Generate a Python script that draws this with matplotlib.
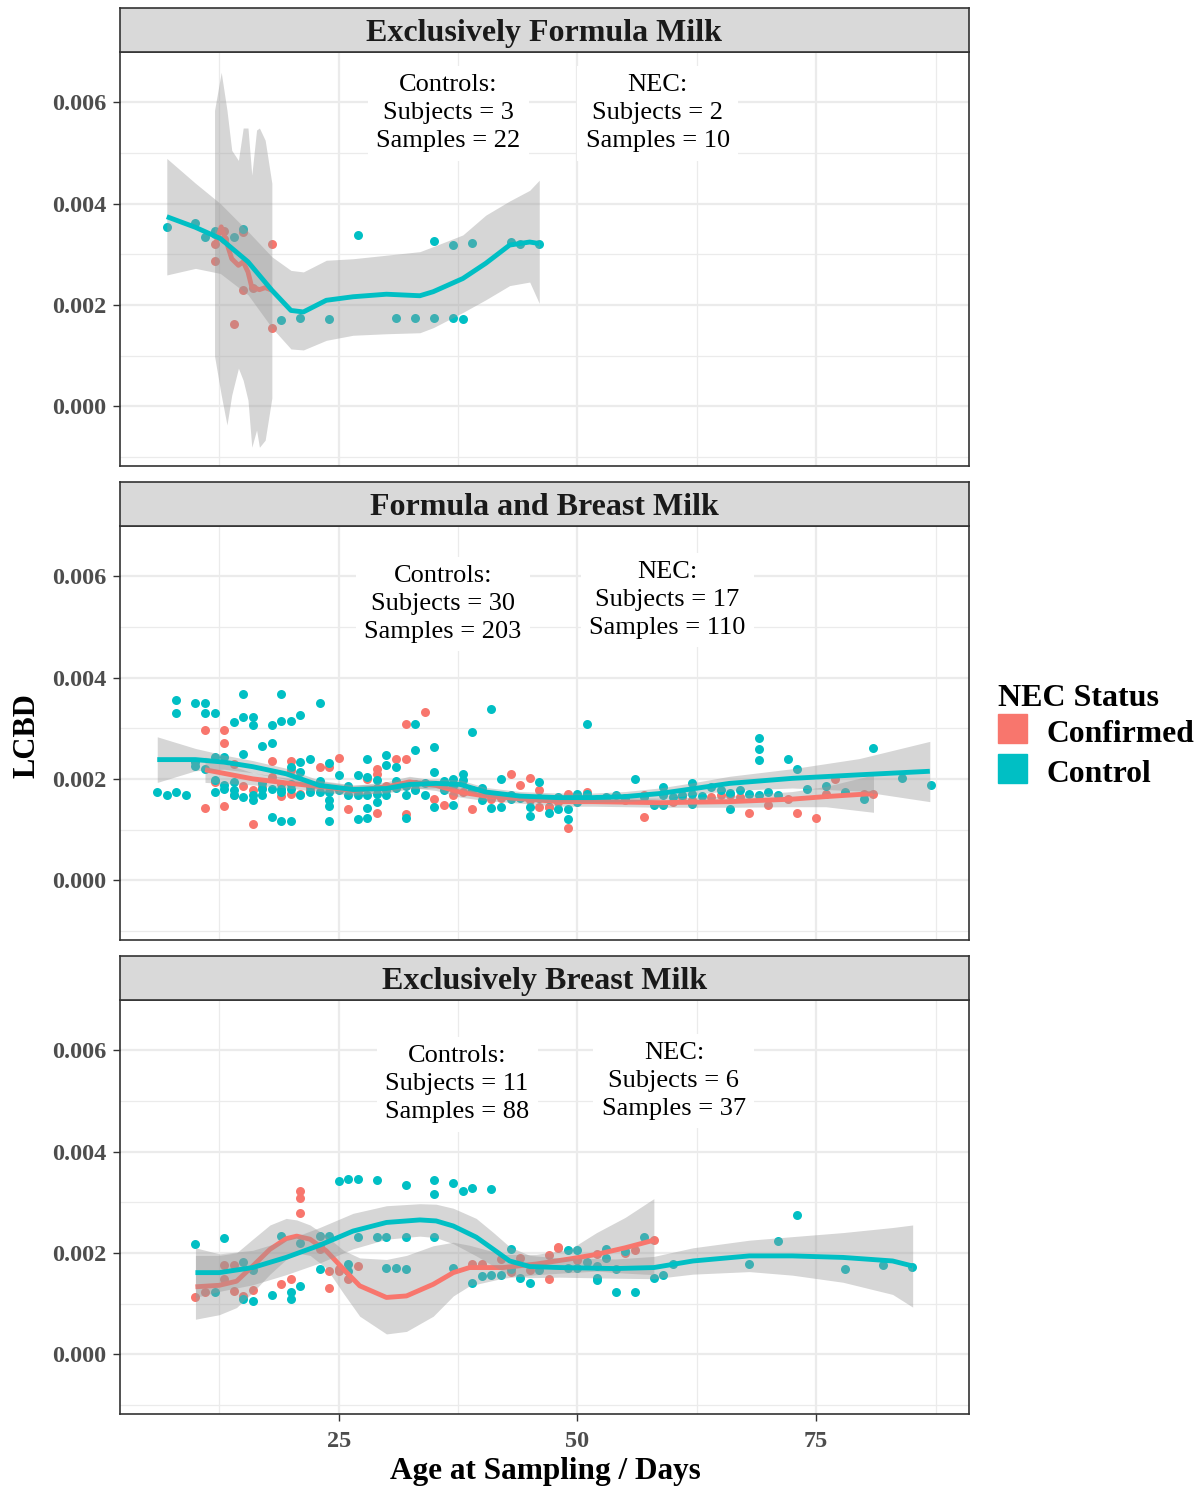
import numpy as np
import matplotlib
matplotlib.use("Agg")
import matplotlib.pyplot as plt
from matplotlib.patches import Rectangle
from matplotlib.ticker import FixedLocator

plt.rcParams["font.family"] = ["Liberation Serif", "DejaVu Serif"]

COL_NEC = "#F8766D"
COL_CTRL = "#00BFC4"

# ---------------- data (LCBD in units of 1e-3) ----------------
# Exclusively Formula Milk
efm_ctrl_day = [7, 10, 11, 12, 12, 14, 15, 19, 21, 24, 27, 31, 33, 35, 35, 37, 37, 38, 39, 43, 44, 46]
efm_ctrl_val = [3.54, 3.62, 3.34, 3.45, 3.40, 3.34, 3.49, 1.71, 1.75, 1.72, 3.37, 1.74, 1.75, 1.75,
                3.26, 3.18, 1.74, 1.73, 3.23, 3.25, 3.20, 3.20]
efm_nec_day = [12, 12, 13, 13, 14, 15, 15, 16, 18, 18]
efm_nec_val = [2.86, 3.20, 3.45, 3.30, 1.63, 3.43, 2.30, 2.33, 3.21, 1.55]

# Formula and Breast Milk
fbm_ctrl_day = [6, 7, 8, 8, 8, 9, 10, 10, 10, 11, 11, 11, 12, 12, 12, 12, 13, 13, 14, 14, 14,
                15, 15, 15, 15, 16, 16, 16, 16, 17, 17, 17, 18, 18, 18, 18, 19, 19, 19, 19, 19,
                20, 20, 20, 20, 21, 21, 21, 21, 22, 22, 23, 23, 24, 24, 24, 24, 24, 25,
                26, 27, 27, 27, 28, 28, 28, 28, 28, 29, 29, 29, 30, 30, 30, 31, 31, 32, 32,
                33, 33, 33, 34, 35, 35, 35, 36, 37, 37, 38, 38, 39, 40, 41, 41, 42, 42, 43,
                45, 45, 46, 47, 48, 49, 49, 50, 50, 51, 53, 54, 56, 58, 59, 59, 59, 60, 62,
                62, 62, 64, 65, 66, 67, 69, 69, 69, 69, 72, 73, 78, 80, 81, 84, 87,
                13, 14, 17, 20, 22, 23, 25, 26, 29, 30, 31, 32, 33, 34, 36, 37, 39, 40, 43,
                44, 46, 47, 48, 51, 52, 55, 57, 61, 63, 66, 68, 70, 71, 74, 76]
fbm_ctrl_val = [1.74, 1.68, 3.55, 3.29, 1.75, 1.68, 3.50, 2.33, 2.25, 3.49, 3.30, 2.19, 3.29,
                2.43, 1.97, 1.74, 2.43, 1.87, 3.12, 1.93, 1.68, 3.68, 3.22, 2.49, 1.64, 3.22,
                3.06, 1.68, 1.59, 2.65, 1.80, 1.68, 3.06, 2.70, 1.80, 1.24, 3.68, 3.14, 1.80,
                1.74, 1.17, 3.14, 2.24, 1.80, 1.17, 3.26, 2.33, 2.14, 1.68, 2.40, 1.74, 3.49,
                1.74, 2.31, 1.74, 1.58, 1.46, 1.17, 2.08,
                1.68, 2.07, 1.68, 1.20, 2.40, 2.03, 1.68, 1.42, 1.22, 1.97, 1.71, 1.55, 2.47,
                2.27, 1.68, 2.24, 1.81, 1.68, 1.22, 3.09, 2.57, 1.78, 1.68, 2.63, 2.14, 1.45,
                1.78, 2.00, 1.48, 2.10, 1.97, 2.93, 1.58, 3.37, 1.43, 2.00, 1.45, 1.68,
                1.44, 1.27, 1.94, 1.32, 1.40, 1.41, 1.20, 1.71, 1.55, 3.09, 1.64, 1.68, 2.00,
                1.48, 1.84, 1.68, 1.48, 1.64, 1.91, 1.71, 1.51, 1.84, 1.78, 1.41, 1.78, 2.80,
                2.58, 2.38, 1.68, 2.40, 2.19, 1.74, 1.61, 2.60, 2.01, 1.88,
                1.80, 1.78, 1.92, 1.90, 1.85, 1.95, 1.78, 1.85, 1.82, 1.78, 1.95, 1.85, 1.90,
                1.92, 1.95, 1.85, 1.78, 1.82, 1.60, 1.62, 1.62, 1.60, 1.65, 1.70, 1.60, 1.62,
                1.65, 1.68, 1.66, 1.72, 1.70, 1.75, 1.68, 1.80, 1.85]
fbm_nec_day = [11, 11, 12, 13, 13, 13, 14, 14, 16, 16, 17, 18, 18, 19, 20, 20, 20, 21, 23, 24,
               25, 26, 28, 29, 29, 29, 31, 32, 32, 32, 34, 35, 36, 37, 39, 41, 43, 44, 45, 45,
               46, 46, 47, 47, 49, 49, 51, 57, 57, 61, 64, 65, 66, 67, 68, 70, 73, 75, 76, 77,
               80, 81, 15, 19, 22, 27, 30, 33, 38, 40, 42, 48, 53, 55, 60, 62, 72]
fbm_nec_val = [2.96, 1.43, 1.93, 2.97, 2.70, 1.46, 2.30, 1.68, 1.78, 1.11, 1.84, 2.35, 2.04,
               1.66, 2.35, 2.17, 1.71, 1.71, 2.23, 2.23, 2.41, 1.41, 2.00, 2.20, 2.10, 1.32,
               2.39, 3.09, 2.40, 1.30, 3.32, 1.61, 1.48, 1.68, 1.41, 1.61, 2.10, 1.87, 2.02,
               1.58, 1.78, 1.44, 1.44, 1.45, 1.71, 1.03, 1.74, 1.68, 1.25, 1.64, 1.64, 1.68,
               1.68, 1.64, 1.32, 1.48, 1.33, 1.22, 1.71, 2.00, 1.71, 1.71,
               1.85, 1.90, 1.80, 1.75, 1.85, 1.80, 1.75, 1.70, 1.62, 1.55, 1.60, 1.58, 1.55,
               1.58, 1.60]

# Exclusively Breast Milk
ebm_ctrl_day = [10, 12, 13, 15, 15, 16, 16, 18, 19, 20, 20, 21, 21, 23, 23, 24, 25, 26, 26, 26,
                27, 27, 29, 29, 30, 30, 31, 32, 32, 32, 35, 35, 35, 37, 37, 38, 39, 39, 40, 41,
                41, 42, 43, 43, 44, 45, 46, 49, 49, 50, 50, 51, 52, 52, 52, 53, 53, 54, 54, 55,
                56, 57, 58, 59, 60, 68, 71, 73, 78, 82, 85]
ebm_ctrl_val = [2.17, 1.23, 2.29, 1.81, 1.09, 1.66, 1.05, 1.16, 2.34, 1.22, 1.09, 1.34, 2.20,
                2.34, 1.68, 2.34, 3.41, 3.45, 1.78, 1.64, 3.45, 2.31, 3.43, 2.31, 2.31, 1.71,
                1.71, 3.34, 2.31, 1.69, 3.43, 3.17, 2.31, 3.38, 1.71, 3.22, 3.28, 1.41, 1.54,
                3.26, 1.57, 1.57, 2.08, 1.69, 1.51, 1.40, 1.67, 2.06, 1.71, 2.06, 1.71, 1.81,
                1.74, 1.51, 1.46, 2.07, 1.89, 1.68, 1.22, 2.04, 1.23, 2.32, 1.50, 1.57, 1.79,
                1.78, 2.24, 2.74, 1.69, 1.76, 1.73]
ebm_nec_day = [10, 11, 13, 13, 14, 14, 15, 16, 19, 20, 21, 21, 21, 23, 23, 24, 24, 25, 25, 26,
               27, 39, 40, 42, 43, 44, 45, 46, 47, 47, 48, 48, 50, 52, 55, 56, 58]
ebm_nec_val = [1.12, 1.23, 1.77, 1.48, 1.77, 1.25, 1.15, 1.26, 1.38, 1.48, 3.22, 3.09, 2.78,
               2.14, 2.08, 1.64, 1.30, 1.64, 1.68, 1.48, 1.74, 1.78, 1.79, 1.87, 1.63, 1.89,
               1.67, 1.75, 1.96, 1.48, 2.10, 2.12, 1.85, 1.97, 2.00, 2.05, 2.25]

# ---------------- loess fits with 95% bands (read values, 1e-3) ----------------
efm_ctrl_fit_day = [7.0, 10.0, 12.6, 15.5, 18.0, 20.0, 21.3, 23.7, 26.5, 30.0, 33.5, 34.9, 38.0, 40.4, 42.9, 45.0, 46.0]
efm_ctrl_fit = [3.74, 3.53, 3.31, 2.85, 2.29, 1.89, 1.86, 2.09, 2.16, 2.21, 2.18, 2.26, 2.52, 2.82, 3.18, 3.24, 3.21]
efm_ctrl_hi = [4.89, 4.40, 4.00, 3.45, 2.95, 2.68, 2.65, 2.88, 2.91, 2.98, 3.05, 3.15, 3.38, 3.77, 4.05, 4.26, 4.46]
efm_ctrl_lo = [2.59, 2.72, 2.62, 2.20, 1.55, 1.13, 1.11, 1.30, 1.40, 1.43, 1.45, 1.55, 1.85, 2.10, 2.38, 2.45, 2.03]
efm_nec_fit_day = [12.0, 12.7, 13.3, 13.8, 14.5, 15.0, 15.5, 15.9, 16.4, 16.7, 17.3, 18.0]
efm_nec_fit = [3.14, 3.54, 3.21, 2.91, 2.78, 2.85, 2.65, 2.35, 2.32, 2.30, 2.34, 2.29]
efm_nec_hi = [5.84, 6.59, 5.84, 5.05, 4.85, 5.49, 5.49, 4.56, 5.45, 5.49, 5.25, 4.40]
efm_nec_lo = [0.99, 0.22, -0.37, 0.22, 0.75, 0.51, 0.12, -0.81, -0.47, -0.81, -0.67, 0.16]

fbm_ctrl_fit_day = [6.0, 10.0, 13.0, 16.0, 19.5, 23.0, 26.5, 30.0, 32.4, 35.2, 37.7, 40.4, 44.0, 48.0, 51.6, 55.0, 58.6, 62.3, 65.9, 72.5, 79.5, 86.9]
fbm_ctrl_fit = [2.38, 2.38, 2.33, 2.24, 2.10, 1.87, 1.79, 1.81, 1.89, 1.91, 1.89, 1.74, 1.66, 1.63, 1.63, 1.65, 1.71, 1.81, 1.91, 2.01, 2.08, 2.15]
fbm_ctrl_hi = [2.83, 2.60, 2.47, 2.36, 2.21, 1.97, 1.88, 1.90, 1.98, 2.00, 1.98, 1.83, 1.75, 1.72, 1.72, 1.75, 1.82, 1.93, 2.05, 2.20, 2.40, 2.74]
fbm_ctrl_lo = [1.93, 2.16, 2.19, 2.12, 1.99, 1.77, 1.70, 1.72, 1.80, 1.82, 1.80, 1.65, 1.57, 1.54, 1.54, 1.55, 1.60, 1.69, 1.77, 1.82, 1.76, 1.55]
fbm_nec_fit_day = [11.0, 16.0, 19.5, 23.0, 26.5, 30.0, 32.4, 35.2, 37.7, 40.4, 44.0, 48.1, 51.6, 58.6, 65.9, 72.5, 76.0, 81.0]
fbm_nec_fit = [2.18, 2.00, 1.92, 1.85, 1.77, 1.84, 1.94, 1.87, 1.74, 1.66, 1.61, 1.55, 1.55, 1.53, 1.55, 1.60, 1.65, 1.71]
fbm_nec_hi = [2.43, 2.12, 2.02, 1.95, 1.87, 1.94, 2.05, 1.97, 1.84, 1.75, 1.70, 1.64, 1.64, 1.62, 1.66, 1.75, 1.85, 2.08]
fbm_nec_lo = [1.93, 1.88, 1.82, 1.75, 1.67, 1.74, 1.83, 1.77, 1.64, 1.57, 1.52, 1.46, 1.46, 1.44, 1.44, 1.45, 1.45, 1.34]

ebm_ctrl_fit_day = [10.0, 12.5, 16.0, 19.5, 23.0, 26.5, 30.0, 33.5, 35.2, 37.0, 39.4, 41.2, 42.9, 45.0, 48.1, 54.0, 58.0, 62.1, 68.0, 72.5, 77.8, 83.0, 85.1]
ebm_ctrl_fit = [1.61, 1.61, 1.71, 1.91, 2.15, 2.43, 2.60, 2.65, 2.63, 2.53, 2.31, 2.07, 1.84, 1.73, 1.71, 1.69, 1.71, 1.84, 1.94, 1.94, 1.91, 1.84, 1.74]
ebm_ctrl_hi = [2.10, 1.98, 2.05, 2.25, 2.50, 2.78, 2.93, 2.97, 2.96, 2.88, 2.68, 2.40, 2.12, 1.95, 1.90, 1.88, 1.93, 2.10, 2.25, 2.32, 2.40, 2.50, 2.55]
ebm_ctrl_lo = [1.12, 1.24, 1.37, 1.57, 1.80, 2.08, 2.27, 2.33, 2.30, 2.18, 1.94, 1.74, 1.56, 1.51, 1.52, 1.50, 1.49, 1.58, 1.63, 1.56, 1.42, 1.18, 0.93]
ebm_nec_fit_day = [10.0, 12.5, 14.3, 16.0, 17.8, 19.5, 20.6, 22.0, 23.7, 25.5, 27.2, 30.0, 32.1, 34.9, 37.0, 38.7, 42.2, 45.7, 49.2, 52.0, 55.0, 58.0]
ebm_nec_fit = [1.33, 1.36, 1.44, 1.74, 2.07, 2.28, 2.33, 2.27, 2.04, 1.68, 1.35, 1.12, 1.15, 1.38, 1.61, 1.71, 1.71, 1.78, 1.88, 1.97, 2.10, 2.25]
ebm_nec_hi = [1.95, 1.95, 2.00, 2.27, 2.55, 2.68, 2.65, 2.55, 2.33, 2.05, 1.90, 1.87, 1.95, 2.14, 2.21, 2.15, 1.97, 1.97, 2.07, 2.40, 2.70, 3.07]
ebm_nec_lo = [0.69, 0.78, 0.92, 1.22, 1.58, 1.87, 2.00, 1.95, 1.70, 1.20, 0.75, 0.40, 0.45, 0.75, 1.15, 1.35, 1.50, 1.57, 1.61, 1.64, 1.60, 1.57]

panel_titles = ["Exclusively Formula Milk", "Formula and Breast Milk", "Exclusively Breast Milk"]
ctrl_counts = [(3, 22), (30, 203), (11, 88)]
nec_counts = [(2, 10), (17, 110), (6, 37)]
legend_labels = ["Confirmed", "Control"]

S = 1e-3
panels = [
    dict(ctrl=(efm_ctrl_day, efm_ctrl_val), nec=(efm_nec_day, efm_nec_val),
         ctrl_fit=(efm_ctrl_fit_day, efm_ctrl_fit, efm_ctrl_lo, efm_ctrl_hi),
         nec_fit=(efm_nec_fit_day, efm_nec_fit, efm_nec_lo, efm_nec_hi),
         ctrl_xy=(36.5, 5.78), nec_xy=(58.4, 5.78)),
    dict(ctrl=(fbm_ctrl_day, fbm_ctrl_val), nec=(fbm_nec_day, fbm_nec_val),
         ctrl_fit=(fbm_ctrl_fit_day, fbm_ctrl_fit, fbm_ctrl_lo, fbm_ctrl_hi),
         nec_fit=(fbm_nec_fit_day, fbm_nec_fit, fbm_nec_lo, fbm_nec_hi),
         ctrl_xy=(35.9, 5.45), nec_xy=(59.4, 5.53)),
    dict(ctrl=(ebm_ctrl_day, ebm_ctrl_val), nec=(ebm_nec_day, ebm_nec_val),
         ctrl_fit=(ebm_ctrl_fit_day, ebm_ctrl_fit, ebm_ctrl_lo, ebm_ctrl_hi),
         nec_fit=(ebm_nec_fit_day, ebm_nec_fit, ebm_nec_lo, ebm_nec_hi),
         ctrl_xy=(37.4, 5.33), nec_xy=(60.1, 5.39)),
]

# ---------------- figure ----------------
W, H = 1204, 1488
fig = plt.figure(figsize=(W / 100, H / 100), dpi=100)

def fx(px):
    return px / W

def fy(py):
    return 1 - py / H

left_px, right_px = 120, 969
panel_px = [(52, 466), (526, 940), (1000, 1414)]
strip_h = 44

XLIM = (2.1, 91.0)
YLIM = (-0.00118, 0.00699)
TICK_COL = "#4D4D4D"
EDGE = "#333333"

axes = []
for i, (top, bot) in enumerate(panel_px):
    ax = fig.add_axes([fx(left_px), fy(bot), fx(right_px - left_px), (bot - top) / H])
    sax = fig.add_axes([fx(left_px), fy(top), fx(right_px - left_px), strip_h / H])
    sax.set_facecolor("#D9D9D9")
    sax.set_xticks([]); sax.set_yticks([])
    for sp in sax.spines.values():
        sp.set_color(EDGE); sp.set_linewidth(1.2)
    sax.text(0.5, 0.42, panel_titles[i], ha="center", va="center", fontsize=23,
             fontweight="bold", color="#1A1A1A", transform=sax.transAxes)

    p = panels[i]
    ax.set_xlim(*XLIM); ax.set_ylim(*YLIM)
    ax.xaxis.set_major_locator(FixedLocator([25, 50, 75]))
    ax.xaxis.set_minor_locator(FixedLocator([12.5, 37.5, 62.5, 87.5]))
    ax.yaxis.set_major_locator(FixedLocator([0, 0.002, 0.004, 0.006]))
    ax.yaxis.set_minor_locator(FixedLocator([-0.001, 0.001, 0.003, 0.005]))
    ax.grid(which="major", color="#EBEBEB", lw=1.6, zorder=0)
    ax.grid(which="minor", color="#EBEBEB", lw=0.9, zorder=0)
    ax.set_axisbelow(True)
    ax.tick_params(which="minor", length=0)
    ax.tick_params(which="major", length=5, width=1, color=EDGE, labelcolor=TICK_COL,
                   labelsize=17.5)
    ax.tick_params(axis="y", pad=5)
    ax.tick_params(axis="x", pad=7)
    ax.set_yticklabels(["0.000", "0.002", "0.004", "0.006"], fontweight="bold")
    if i < 2:
        ax.tick_params(axis="x", which="major", length=0, labelbottom=False)
    else:
        ax.set_xticklabels(["25", "50", "75"], fontweight="bold")
    for sp in ax.spines.values():
        sp.set_color(EDGE); sp.set_linewidth(1.2)

    # points
    ax.scatter(p["nec"][0], np.array(p["nec"][1]) * S, s=42, color=COL_NEC,
               linewidths=0, zorder=2)
    ax.scatter(p["ctrl"][0], np.array(p["ctrl"][1]) * S, s=42, color=COL_CTRL,
               linewidths=0, zorder=2)

    # smooth fits: band then line, NEC group first
    for fit, col, z in ((p["nec_fit"], COL_NEC, 3), (p["ctrl_fit"], COL_CTRL, 5)):
        d, m, lo, hi = fit
        ax.fill_between(d, np.array(lo) * S, np.array(hi) * S, color="#999999",
                        alpha=0.4, linewidth=0, zorder=z)
        ax.plot(d, np.array(m) * S, color=col, lw=3.5, solid_capstyle="butt",
                solid_joinstyle="round", zorder=z + 0.5)

    # sample-size annotations
    box = dict(facecolor="white", edgecolor="none", pad=6)
    cx, cy = p["ctrl_xy"]
    ax.text(cx, cy * S, "Controls:\nSubjects = %d\nSamples = %d" % ctrl_counts[i],
            ha="center", va="center", fontsize=19, linespacing=1.35, bbox=box, zorder=8)
    nx, ny = p["nec_xy"]
    ax.text(nx, ny * S, "NEC:\nSubjects = %d\nSamples = %d" % nec_counts[i],
            ha="center", va="center", fontsize=19, linespacing=1.35, bbox=box, zorder=8)
    axes.append(ax)

# axis titles
fig.text(fx(27), fy(736), "LCBD", rotation=90, ha="center", va="center",
         fontsize=22, fontweight="bold")
fig.text(fx(545), fy(1471), "Age at Sampling / Days", ha="center", va="center",
         fontsize=22.5, fontweight="bold")

# legend
fig.text(fx(998), fy(698), "NEC Status", ha="left", va="center", fontsize=23,
         fontweight="bold")
for k, (lab, col) in enumerate(zip(legend_labels, [COL_NEC, COL_CTRL])):
    y0 = 714 + 40 * k
    fig.patches.append(Rectangle((fx(998), fy(y0 + 29)), fx(29), 29 / H, color=col,
                                 transform=fig.transFigure, figure=fig))
    fig.text(fx(1046), fy(y0 + 21), lab, ha="left", va="center", fontsize=22.8,
             fontweight="bold")

fig.savefig("out.png", dpi=100)
